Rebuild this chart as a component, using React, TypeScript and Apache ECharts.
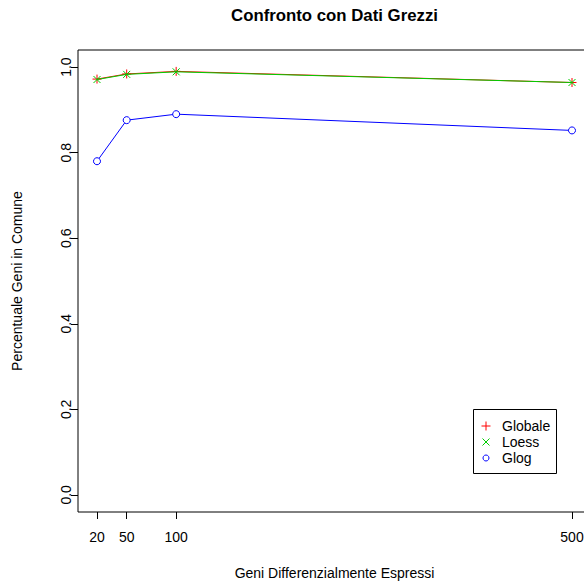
import React, { useEffect, useRef } from "react";
import * as echarts from "echarts";

const xValues = [20, 50, 100, 500];
const globale = [0.972, 0.984, 0.99, 0.964];
const loess = [0.971, 0.983, 0.989, 0.964];
const glog = [0.78, 0.876, 0.89, 0.852];
const xTicks = [20, 50, 100, 500];
const yTicks = [0, 0.2, 0.4, 0.6, 0.8, 1.0];
const legendNames = ["Globale", "Loess", "Glog"];

const FONT = "'Liberation Sans', Arial, Helvetica, sans-serif";
const RED = "#FF0000";
const GREEN = "#00CD00";
const BLUE = "#0000FF";

const PLUS = "path://M0,5L10,5M5,0L5,10";
const CROSS = "path://M0,0L10,10M10,0L0,10";

function pairs(ys: number[]) {
  return xValues.map((x, i) => [x, ys[i]]);
}

export default function App() {
  const ref = useRef<HTMLDivElement>(null);
  useEffect(() => {
    if (!ref.current) return;
    const chart = echarts.init(ref.current, undefined, { renderer: "svg" });
    const lx = 486;
    const ly = [426, 442, 458];
    chart.setOption({
      animation: false,
      backgroundColor: "#fff",
      textStyle: { fontFamily: FONT },
      grid: {
        left: 78,
        top: 50,
        width: 513,
        height: 462,
        show: true,
        borderColor: "#000",
        borderWidth: 1,
        backgroundColor: "transparent",
      },
      xAxis: {
        type: "value",
        min: 0.8,
        max: 519.2,
        splitLine: { show: false },
        axisLine: { show: false, onZero: false },
        axisTick: {
          show: true,
          length: 7,
          lineStyle: { color: "#000", width: 1 },
          customValues: xTicks,
        },
        axisLabel: {
          color: "#000",
          fontSize: 14,
          fontFamily: FONT,
          margin: 18,
          customValues: xTicks,
          formatter: (v: number) => String(v),
        },
      },
      yAxis: {
        type: "value",
        min: -0.04,
        max: 1.04,
        splitLine: { show: false },
        axisLine: { show: false, onZero: false },
        axisTick: {
          show: true,
          length: 7,
          lineStyle: { color: "#000", width: 1 },
          customValues: yTicks,
        },
        axisLabel: {
          color: "#000",
          fontSize: 14,
          fontFamily: FONT,
          rotate: 90,
          margin: 5,
          customValues: yTicks,
          formatter: (v: number) => v.toFixed(1),
        },
      },
      series: [
        {
          name: "Globale",
          type: "line",
          data: pairs(globale),
          symbol: PLUS,
          symbolSize: 9,
          lineStyle: { color: RED, width: 1 },
          itemStyle: { color: RED, borderColor: RED, borderWidth: 1 },
          z: 2,
        },
        {
          name: "Loess",
          type: "line",
          data: pairs(loess),
          symbol: CROSS,
          symbolSize: 7,
          lineStyle: { color: GREEN, width: 1 },
          itemStyle: { color: GREEN, borderColor: GREEN, borderWidth: 1 },
          z: 3,
        },
        {
          name: "Glog",
          type: "line",
          data: pairs(glog),
          symbol: "circle",
          symbolSize: 7,
          showAllSymbol: true,
          lineStyle: { color: BLUE, width: 1 },
          itemStyle: { color: "#fff", borderColor: BLUE, borderWidth: 1 },
          z: 4,
        },
      ],
      graphic: [
        {
          type: "text",
          x: 334.5,
          y: 15,
          style: {
            text: "Confronto con Dati Grezzi",
            font: `bold 16.8px ${FONT}`,
            fill: "#000",
            align: "center",
            verticalAlign: "middle",
          },
        },
        {
          type: "text",
          x: 334.5,
          y: 573,
          style: {
            text: "Geni Differenzialmente Espressi",
            font: `14px ${FONT}`,
            fill: "#000",
            align: "center",
            verticalAlign: "middle",
          },
        },
        {
          type: "text",
          x: 17,
          y: 281,
          rotation: Math.PI / 2,
          style: {
            text: "Percentuale Geni in Comune",
            font: `14px ${FONT}`,
            fill: "#000",
            align: "center",
            verticalAlign: "middle",
          },
        },
        {
          type: "rect",
          shape: { x: 473.5, y: 409.5, width: 83, height: 64 },
          style: { fill: "#fff", stroke: "#000", lineWidth: 1 },
          z: 10,
        },
        {
          type: "line",
          shape: { x1: lx - 4.5, y1: ly[0], x2: lx + 4.5, y2: ly[0] },
          style: { stroke: RED, lineWidth: 1 },
          z: 11,
        },
        {
          type: "line",
          shape: { x1: lx, y1: ly[0] - 4.5, x2: lx, y2: ly[0] + 4.5 },
          style: { stroke: RED, lineWidth: 1 },
          z: 11,
        },
        {
          type: "line",
          shape: { x1: lx - 3.5, y1: ly[1] - 3.5, x2: lx + 3.5, y2: ly[1] + 3.5 },
          style: { stroke: GREEN, lineWidth: 1 },
          z: 11,
        },
        {
          type: "line",
          shape: { x1: lx + 3.5, y1: ly[1] - 3.5, x2: lx - 3.5, y2: ly[1] + 3.5 },
          style: { stroke: GREEN, lineWidth: 1 },
          z: 11,
        },
        {
          type: "circle",
          shape: { cx: lx, cy: ly[2], r: 3 },
          style: { fill: "none", stroke: BLUE, lineWidth: 1 },
          z: 11,
        },
        ...legendNames.map((n, i) => ({
          type: "text",
          x: 502,
          y: ly[i],
          z: 11,
          style: {
            text: n,
            font: `14px ${FONT}`,
            fill: "#000",
            align: "left",
            verticalAlign: "middle",
          },
        })),
      ],
    });
    return () => chart.dispose();
  }, []);
  return (
    <div
      style={{
        position: "absolute",
        left: 0,
        top: 0,
        width: 584,
        height: 584,
        overflow: "hidden",
      }}
    >
      <div ref={ref} style={{ width: 620, height: 584 }} />
    </div>
  );
}
